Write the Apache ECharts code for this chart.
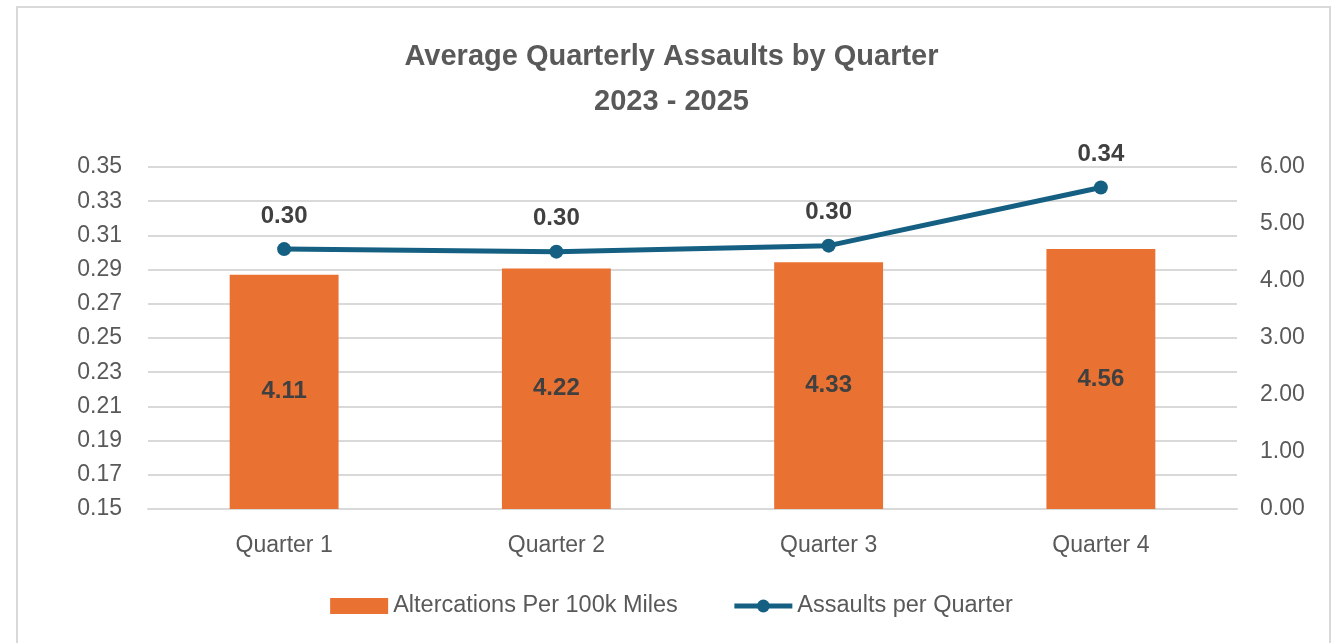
<!DOCTYPE html>
<html>
<head>
<meta charset="utf-8">
<script src="https://cdn.jsdelivr.net/npm/echarts@6/dist/echarts.min.js"></script>
<style>
  html, body { margin: 0; padding: 0; background: #fff; }
  #chart { width: 1343px; height: 643px; }
</style>
</head>
<body>
<div id="chart"></div>
<script>
    var quarters = ['Quarter 1', 'Quarter 2', 'Quarter 3', 'Quarter 4'];
    var altercations = [4.11, 4.22, 4.33, 4.56];
    var assaults = [0.302, 0.3005, 0.304, 0.338];

    var font = "'Liberation Sans', Arial, sans-serif";

    var myChart = echarts.init(document.getElementById('chart'));
    var option = {
        backgroundColor: '#ffffff',
        animation: false,
        graphic: [{
            type: 'rect',
            shape: { x: 17, y: 7, width: 1313, height: 660 },
            style: { fill: 'none', stroke: '#d9d9d9', lineWidth: 2 },
            silent: true
        }],
        title: {
            text: 'Average Quarterly Assaults by Quarter\n2023 - 2025',
            left: 'center',
            top: 29,
            textStyle: {
                fontFamily: font,
                fontSize: 29,
                fontWeight: 'bold',
                color: '#595959',
                lineHeight: 45
            }
        },
        legend: {
            top: 589,
            left: 'center',
            itemGap: 54,
            itemWidth: 58,
            itemHeight: 16,
            textStyle: { fontFamily: font, fontSize: 23.5, color: '#595959' },
            data: [
                { name: 'Altercations Per 100k Miles', icon: 'rect', itemStyle: { color: '#E97132' } },
                { name: 'Assaults per Quarter', lineStyle: { width: 5, color: '#156082' }, itemStyle: { color: '#156082' } }
            ]
        },
        grid: { left: 148, right: 106, top: 167, bottom: 134 },
        xAxis: {
            type: 'category',
            data: quarters,
            axisTick: { show: false },
            axisLine: { show: true, lineStyle: { color: '#d9d9d9', width: 2 } },
            axisLabel: { fontFamily: font, fontSize: 23, color: '#595959', margin: 25 }
        },
        yAxis: [{
            type: 'value',
            min: 0.15,
            max: 0.35,
            interval: 0.02,
            axisLine: { show: false },
            axisTick: { show: false },
            splitLine: { lineStyle: { color: '#d9d9d9', width: 2 } },
            axisLabel: {
                fontFamily: font, fontSize: 23, color: '#595959', margin: 26,
                formatter: function (v) { return v.toFixed(2); }
            }
        }, {
            type: 'value',
            min: 0,
            max: 6,
            interval: 1,
            position: 'right',
            axisLine: { show: false },
            axisTick: { show: false },
            splitLine: { show: false },
            axisLabel: {
                fontFamily: font, fontSize: 23, color: '#595959', margin: 23,
                formatter: function (v) { return v.toFixed(2); }
            }
        }],
        series: [{
            name: 'Altercations Per 100k Miles',
            type: 'bar',
            yAxisIndex: 1,
            data: altercations,
            barWidth: '40%',
            itemStyle: { color: '#E97132' },
            label: {
                show: true,
                position: 'inside',
                fontFamily: font,
                fontSize: 24,
                fontWeight: 'bold',
                color: '#404040',
                formatter: function (p) { return p.value.toFixed(2); }
            }
        }, {
            name: 'Assaults per Quarter',
            type: 'line',
            yAxisIndex: 0,
            data: assaults,
            symbol: 'circle',
            symbolSize: 14,
            lineStyle: { color: '#156082', width: 5 },
            itemStyle: { color: '#156082' },
            label: {
                show: true,
                position: 'top',
                distance: 14,
                fontFamily: font,
                fontSize: 24,
                fontWeight: 'bold',
                color: '#404040',
                formatter: function (p) { return p.value.toFixed(2); }
            }
        }]
    };
    myChart.setOption(option);
</script>
</body>
</html>
